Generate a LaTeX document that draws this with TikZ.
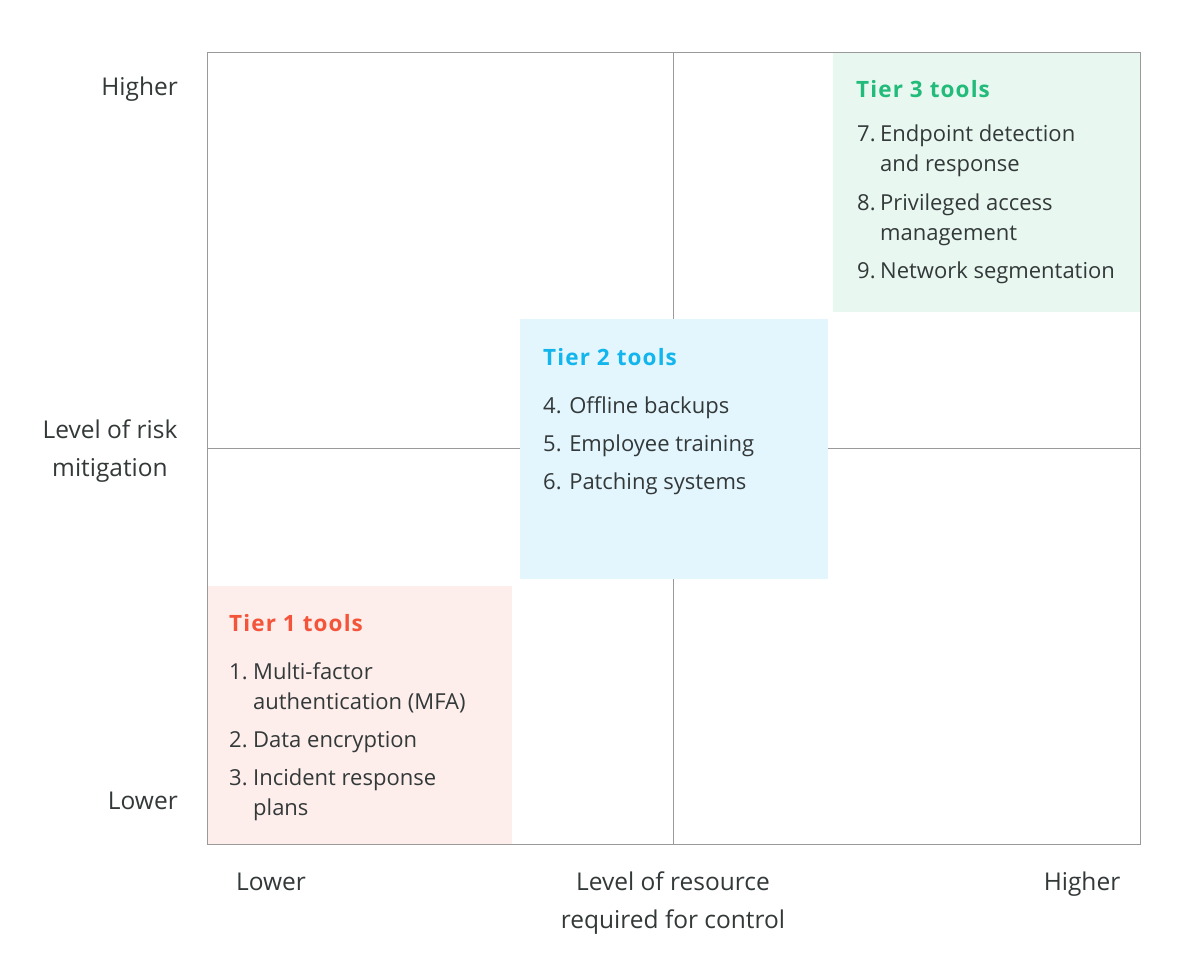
\documentclass[tikz,border=0pt]{standalone}
\usepackage{fontspec}
\setmainfont{Open Sans}
\newfontfamily\ttlfont[LetterSpace=5]{Open Sans Bold}
\definecolor{txt}{HTML}{333839}
\definecolor{gridc}{HTML}{9A9A9A}
\definecolor{gfill}{HTML}{E8F8F1}
\definecolor{bfill}{HTML}{E3F6FD}
\definecolor{rfill}{HTML}{FDEEEC}
\definecolor{gtxt}{HTML}{22BB7A}
\definecolor{btxt}{HTML}{12B5EC}
\definecolor{rtxt}{HTML}{F4553A}
\tikzset{
  lbl/.style={inner sep=0pt, text=txt, font=\fontsize{22}{30}\selectfont, anchor=base west},
  axl/.style={inner sep=0pt, text=txt, font=\fontsize{24.5}{30}\selectfont, anchor=base},
  axle/.style={axl, anchor=base east},
  ttl/.style={inner sep=0pt, font=\fontsize{22.5}{30}\selectfont\ttlfont, anchor=base west},
  gridline/.style={draw=gridc, line width=1pt},
}
\begin{document}
\begin{tikzpicture}[x=1pt,y=-1pt]
\useasboundingbox[fill=white] (0,0) rectangle (1188,977);
% quadrant frame
\coordinate (tl) at (207,52);
\coordinate (br) at (1140,844);
\coordinate (vt) at (673,52);
\coordinate (vb) at (673,844);
\coordinate (hl) at (207,448);
\coordinate (hr) at (1140,448);
\draw[gridline] (vt) -- (vb);
\draw[gridline] (hl) -- (hr);
% tier boxes
\fill[gfill] (833,52) rectangle (1140,312);
\fill[bfill] (520,319) rectangle (828,579);
\fill[rfill] (207,586) rectangle (512,844);
\draw[gridline] (tl) rectangle (br);
% Tier 3
\node[ttl, text=gtxt] (t3) at (856,97) {Tier 3 tools};
\node[lbl] (n7) at (857,141) {7.};
\node[lbl] (i7a) at (880,141) {Endpoint detection};
\node[lbl] (i7b) at (880,171) {and response};
\node[lbl] (n8) at (857,210) {8.};
\node[lbl] (i8a) at (880,210) {Privileged access};
\node[lbl] (i8b) at (880,240) {management};
\node[lbl] (n9) at (857,278) {9.};
\node[lbl] (i9a) at (880,278) {Network segmentation};
% Tier 2
\node[ttl, text=btxt] (t2) at (543,365) {Tier 2 tools};
\node[lbl] (i4) at (543,413) {4. Offline backups};
\node[lbl] (i5) at (543,451) {5. Employee training};
\node[lbl] (i6) at (543,489) {6. Patching systems};
% Tier 1
\node[ttl, text=rtxt] (t1) at (229,631) {Tier 1 tools};
\node[lbl] (n1) at (229,679) {1.};
\node[lbl] (i1a) at (253,679) {Multi-factor};
\node[lbl] (i1b) at (253,709) {authentication (MFA)};
\node[lbl] (n2) at (229,747) {2.};
\node[lbl] (i2a) at (253,747) {Data encryption};
\node[lbl] (n3) at (229,785) {3.};
\node[lbl] (i3a) at (253,785) {Incident response};
\node[lbl] (i3b) at (253,815) {plans};
% y axis labels
\node[axle] (yh) at (178,95) {Higher};
\node[axl] (ym1) at (110,438) {Level of risk};
\node[axl] (ym2) at (110,476) {mitigation};
\node[axle] (yl) at (178,809) {Lower};
% x axis labels
\node[axl] (xl) at (271,890) {Lower};
\node[axl] (xm1) at (673,890) {Level of resource};
\node[axl] (xm2) at (673,928) {required for control};
\node[axl] (xh) at (1082,890) {Higher};
\end{tikzpicture}
\end{document}
